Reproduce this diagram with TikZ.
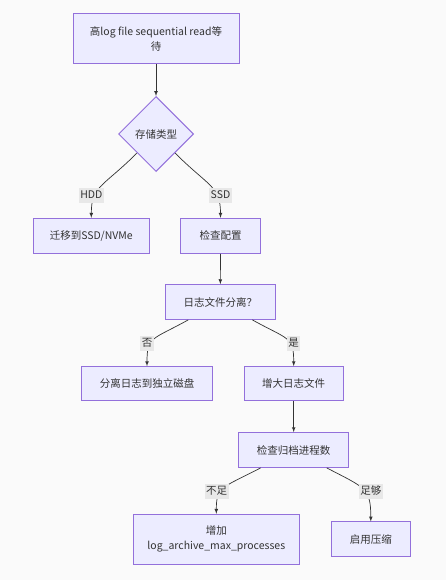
\documentclass[tikz,border=0pt]{standalone}
\usepackage{fontspec}
\setmainfont{Noto Sans CJK SC}
\usetikzlibrary{shapes.geometric}
\definecolor{boxfill}{HTML}{ECECFF}
\definecolor{boxline}{HTML}{9370DB}
\definecolor{ink}{HTML}{333333}
\definecolor{lblfill}{HTML}{E8E8E8}
\definecolor{canvas}{HTML}{FAFAFA}

\begin{document}
\begin{tikzpicture}[x=1pt, y=-1pt, font=\fontsize{10.5}{15}\selectfont, text=ink,
    box/.style={draw=boxline, fill=boxfill, line width=1pt, inner sep=0pt, align=center},
    decision/.style={diamond, draw=boxline, fill=boxfill, line width=1pt, inner sep=0pt,
        minimum width=75pt, minimum height=75pt},
    lbl/.style={fill=lblfill, inner sep=1.5pt, minimum height=15pt},
    arrow/.style={draw=ink, line width=0.7pt, -latex}]
                \fill [canvas] (0, 0) rectangle (446, 580);
                \node [box, minimum width=166pt, minimum height=50pt] (wait) at (156, 39) {高log file sequential read等\\待};
                \node [decision] (storage) at (156, 134) {存储类型};
                \node [box, minimum width=116pt, minimum height=35pt] (migrate) at (91.3, 235.8) {迁移到SSD/NVMe};
                \node [box, minimum width=79.6pt, minimum height=35pt] (config) at (220.5, 235.8) {检查配置};
                \node [box, minimum width=110pt, minimum height=34.7pt] (separate) at (220.3, 302) {日志文件分离？};
                \node [box, minimum width=130.6pt, minimum height=34pt] (splitdisk) at (147, 383.7) {分离日志到独立磁盘};
                \node [box, minimum width=99.3pt, minimum height=34pt] (growlog) at (293.7, 383.7) {增大日志文件};
                \node [box, minimum width=110pt, minimum height=34.7pt] (archcheck) at (293.7, 450) {检查归档进程数};
                \node [box, minimum width=166pt, minimum height=50pt] (addproc) at (216.3, 539.3) {增加\\log\_archive\_max\_processes};
                \node [box, minimum width=79pt, minimum height=34.7pt] (compress) at (370.8, 539.3) {启用压缩};
                \draw [arrow] (wait) -- (storage);
                \draw [arrow] (storage.-135) .. controls +(-34, 34) and +(0, -32) .. (migrate.north);
                \draw [arrow] (storage.-45) .. controls +(34, 34) and +(0, -32) .. (config.north);
                \draw [arrow] (config) -- (separate);
                \draw [arrow] ([xshift=-32pt]separate.south) .. controls +(-36, 20) and +(0, -30) .. (splitdisk.north);
                \draw [arrow] ([xshift=32pt]separate.south) .. controls +(36, 20) and +(0, -30) .. (growlog.north);
                \draw [arrow] (growlog) -- (archcheck);
                \draw [arrow] ([xshift=-33pt]archcheck.south) .. controls +(-38, 20) and +(0, -28) .. (addproc.north);
                \draw [arrow] ([xshift=33pt]archcheck.south) .. controls +(38, 20) and +(0, -34) .. (compress.north);
                \node [lbl] (hddlbl) at (91.3, 195) {HDD};
                \node [lbl] (ssdlbl) at (220.5, 195) {SSD};
                \node [lbl] (nolbl) at (147, 343) {否};
                \node [lbl] (yeslbl) at (293.7, 343) {是};
                \node [lbl] (shortlbl) at (216.7, 491) {不足};
                \node [lbl] (enoughlbl) at (370.8, 491) {足够};
            \end{tikzpicture}
\end{document}
